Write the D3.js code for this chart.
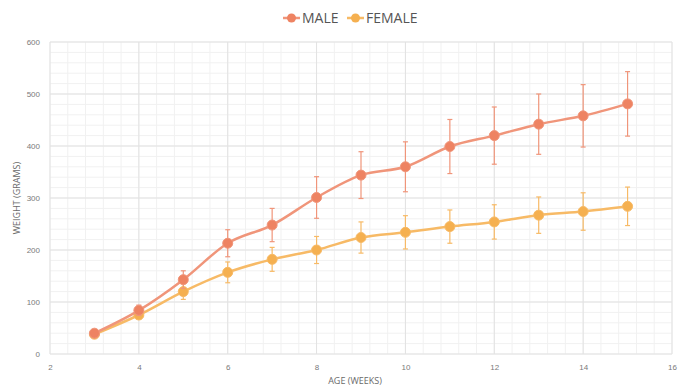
<!DOCTYPE html>
<html><head><meta charset="utf-8">
<script src="https://cdn.jsdelivr.net/npm/d3@7"></script>
<style>body{margin:0;background:#fff;}svg{display:block;font-family:"Open Sans","Liberation Sans",sans-serif;}</style>
</head><body><svg id="c" width="688" height="390"></svg>
<script>
const weeks = [3,4,5,6,7,8,9,10,11,12,13,14,15];
const maleMean = [40,84,143,213,248,301,344,360,399,420,442,458,481];
const maleErr = [4,10,17,26,32,40,45,48,52,55,58,60,62];
const femaleMean = [38,75,120,157,182,200,224,234,245,254,267,274,284];
const femaleErr = [4,8,15,20,23,26,30,32,32,33,35,36,37];
const xTicks = [2,4,6,8,10,12,14,16];
const yTicks = [0,100,200,300,400,500,600];
const seriesNames = ["MALE","FEMALE"];

const svg = d3.select("#c");
const x = d3.scaleLinear().domain([2,16]).range([50,672]);
const y = d3.scaleLinear().domain([0,600]).range([354,42]);

const grid = svg.append("g");
// minor grid
grid.selectAll(".vx").data(d3.range(2,16.001,0.4)).enter().append("line")
  .attr("x1",d=>x(d)).attr("x2",d=>x(d)).attr("y1",y(0)).attr("y2",y(600))
  .attr("stroke","#f1f1f1").attr("stroke-width",1);
grid.selectAll(".vy").data(d3.range(0,600.001,20)).enter().append("line")
  .attr("y1",d=>y(d)).attr("y2",d=>y(d)).attr("x1",x(2)).attr("x2",x(16))
  .attr("stroke","#f1f1f1").attr("stroke-width",1);
// major grid
grid.selectAll(".mx").data(xTicks).enter().append("line")
  .attr("x1",d=>x(d)).attr("x2",d=>x(d)).attr("y1",y(0)).attr("y2",y(600))
  .attr("stroke","#e2e2e2").attr("stroke-width",1);
grid.selectAll(".my").data(yTicks).enter().append("line")
  .attr("y1",d=>y(d)).attr("y2",d=>y(d)).attr("x1",x(2)).attr("x2",x(16))
  .attr("stroke","#e2e2e2").attr("stroke-width",1);

// axes
const xAxis = svg.append("g").attr("transform",`translate(0,${y(0)})`)
  .call(d3.axisBottom(x).tickValues(xTicks).tickSize(0).tickPadding(10));
const yAxis = svg.append("g").attr("transform",`translate(${x(2)},0)`)
  .call(d3.axisLeft(y).tickValues(yTicks).tickSize(0).tickPadding(10));
[xAxis,yAxis].forEach(a=>{
  a.select(".domain").remove();
  a.selectAll("text").attr("fill","#7a7a7a").style("font-size","8px");
});

svg.append("text").attr("x",355).attr("y",384).attr("text-anchor","middle")
  .attr("fill","#6a6a6a").style("font-size","9px").text("AGE (WEEKS)");
svg.append("text").attr("transform","translate(20,198) rotate(-90)").attr("text-anchor","middle")
  .attr("fill","#6a6a6a").style("font-size","9px").text("WEIGHT (GRAMS)");

const series = [
  {name:seriesNames[0], mean:maleMean, err:maleErr, line:"#f0957a", pt:"#ee8362"},
  {name:seriesNames[1], mean:femaleMean, err:femaleErr, line:"#f7ba66", pt:"#f5b050"}
];

const lineGen = d3.line().x(d=>x(d[0])).y(d=>y(d[1])).curve(d3.curveMonotoneX);

series.slice().reverse().forEach(s=>{
  const pts = weeks.map((w,i)=>[w,s.mean[i],s.err[i]]);
  const g = svg.append("g");
  g.selectAll(".eb").data(pts).enter().append("line")
    .attr("x1",d=>x(d[0])).attr("x2",d=>x(d[0]))
    .attr("y1",d=>y(d[1]-d[2])).attr("y2",d=>y(d[1]+d[2]))
    .attr("stroke",s.line).attr("stroke-width",1.2);
  ["top","bot"].forEach(k=>{
    g.selectAll(".cap"+k).data(pts).enter().append("line")
      .attr("x1",d=>x(d[0])-2.5).attr("x2",d=>x(d[0])+2.5)
      .attr("y1",d=>y(k==="top"?d[1]+d[2]:d[1]-d[2]))
      .attr("y2",d=>y(k==="top"?d[1]+d[2]:d[1]-d[2]))
      .attr("stroke",s.line).attr("stroke-width",1.2);
  });
  g.append("path").datum(pts).attr("d",lineGen).attr("fill","none")
    .attr("stroke",s.line).attr("stroke-width",2.5);
  g.selectAll("circle").data(pts).enter().append("circle")
    .attr("cx",d=>x(d[0])).attr("cy",d=>y(d[1])).attr("r",5)
    .attr("fill",s.pt).attr("stroke",s.line).attr("stroke-width",1);
});

// legend
const legX = [283,347];
series.forEach((s,i)=>{
  const g = svg.append("g").attr("transform",`translate(${legX[i]},18)`);
  g.append("line").attr("x1",0).attr("x2",17).attr("y1",0).attr("y2",0)
    .attr("stroke",s.line).attr("stroke-width",2.5);
  g.append("circle").attr("cx",8.5).attr("cy",0).attr("r",4.5).attr("fill",s.pt);
  g.append("text").attr("x",19).attr("y",5).attr("fill","#555")
    .style("font-size","14px").text(s.name);
});
</script></body></html>
